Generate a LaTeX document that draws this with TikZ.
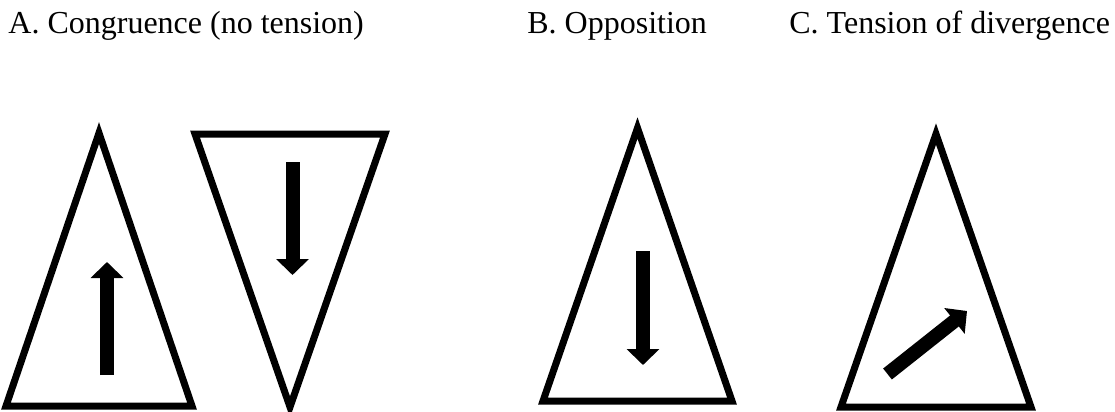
\documentclass[tikz,border=0pt]{standalone}
\usepackage{fontspec}
\setmainfont{LiberationSerif}[Extension=.ttf,UprightFont=*-Regular,BoldFont=*-Bold,ItalicFont=*-Italic,BoldItalicFont=*-BoldItalic]
\usetikzlibrary{arrows.meta}
\begin{document}
\begin{tikzpicture}[x=0.5pt,y=-0.5pt,
  tri/.style={draw=black, line width=3.5pt, line join=miter, miter limit=20},
  bigarrow/.style={draw=black, line width=7pt, -{Triangle[length=8pt,width=16pt]}},
  lbl/.style={anchor=base west, inner sep=0pt, font=\fontsize{16pt}{19pt}\selectfont}]
\useasboundingbox[fill=white] (0,0) rectangle (1115,412);
% labels
\node[lbl] (la) at (8,33) {A. Congruence (no tension)};
\node[lbl] (lb) at (527,33) {B. Opposition};
\node[lbl] (lc) at (789,33) {C. Tension of divergence};
% triangles
\draw[tri] (99,133) -- (6,406) -- (192,406) -- cycle;
\draw[tri] (195,134) -- (385,134) -- (290,407) -- cycle;
\draw[tri] (637.5,128) -- (543,401) -- (732,401) -- cycle;
\draw[tri] (936,134) -- (841,407) -- (1031,407) -- cycle;
% arrows
\coordinate (a1s) at (107,375); \coordinate (a1e) at (107,262);
\coordinate (a2s) at (292.5,162); \coordinate (a2e) at (292.5,275);
\coordinate (bs) at (643,251); \coordinate (be) at (643,365);
\coordinate (cs) at (887.5,374); \coordinate (ce) at (967,311);
\draw[bigarrow] (a1s) -- (a1e);
\draw[bigarrow] (a2s) -- (a2e);
\draw[bigarrow] (bs) -- (be);
\draw[bigarrow] (cs) -- (ce);
\end{tikzpicture}
\end{document}
